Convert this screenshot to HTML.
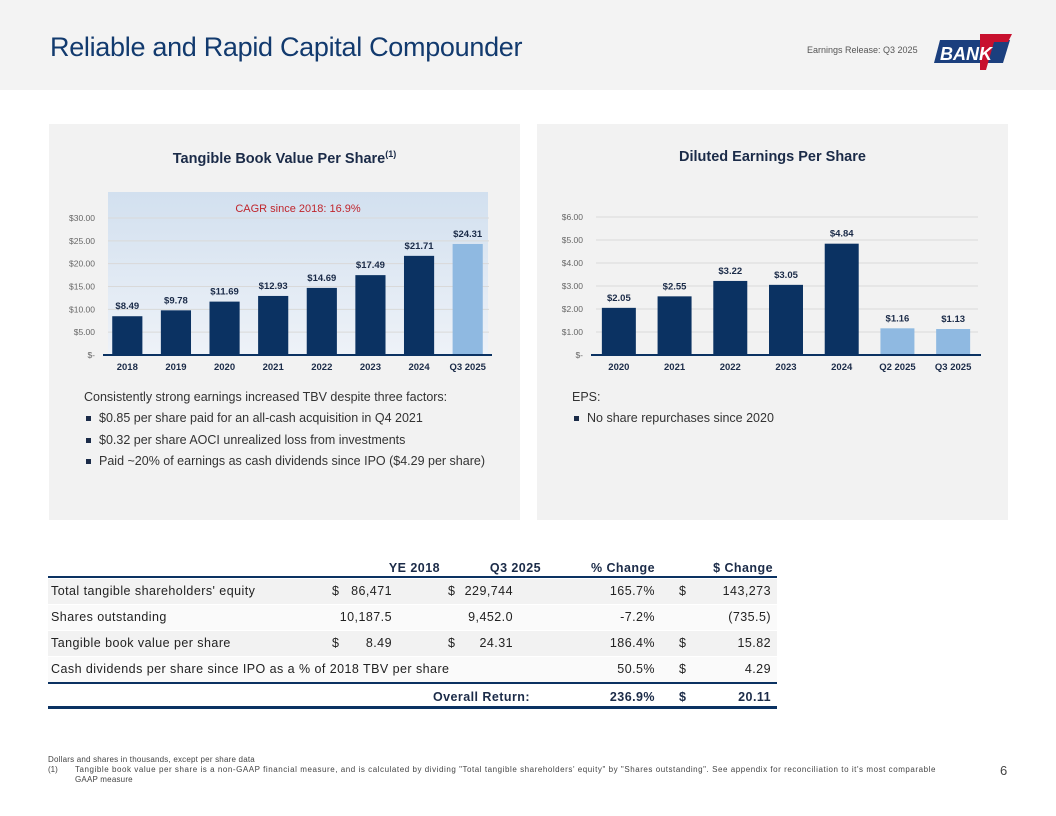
<!DOCTYPE html>
<html><head><meta charset="utf-8">
<style>
body{margin:0;width:1056px;height:816px;position:relative;background:#fff;font-family:"Liberation Sans",sans-serif;overflow:hidden;color:#222}
.abs{position:absolute}
.hdr{left:0;top:0;width:1056px;height:90px;background:#f3f3f3}
.title{left:50px;top:32px;font-size:27px;color:#123a6e;letter-spacing:-0.3px}
.panel{background:#f2f2f2;top:124px;height:396px}
.ptitle{font-weight:bold;font-size:14.5px;color:#1b2b48;text-align:center;width:100%;top:25px}
.txt{font-size:12.5px;color:#333}
.bul{font-size:12.5px;color:#333;padding-left:50px}
.bul:before{content:"";position:absolute;left:37px;top:5px;width:5px;height:5px;background:#1b2b48}
.row{position:absolute;left:48px;width:729px;height:24px;font-size:12.5px;color:#222;letter-spacing:0.45px}
.row span{position:absolute;top:5px}
</style></head><body>
<div class="abs hdr"></div>
<div class="abs title">Reliable and Rapid Capital Compounder</div>
<div class="abs" style="left:807px;top:45px;font-size:9px;color:#555">Earnings Release: Q3 2025</div>
<svg class="abs" style="left:930px;top:30px" width="85" height="42">
<polygon points="10,10 80,10 73,33 4,33" fill="#1b3f7e"/>
<polygon points="50,4 82,4 78,12 64,12 56,40 50,40" fill="#c8102e"/>
<text x="10" y="30" font-size="18" font-weight="bold" font-style="italic" fill="#fff" font-family="Liberation Sans">BANK</text>
</svg>

<div class="abs panel" style="left:49px;width:471px">
<div class="abs ptitle">Tangible Book Value Per Share<sup style="font-size:9px">(1)</sup></div>
</div>
<div class="abs panel" style="left:537px;width:471px">
<div class="abs ptitle">Diluted Earnings Per Share</div>
</div>

<svg id="chart" class="abs" style="left:0;top:0" width="1056" height="400">
<defs><linearGradient id="bg" x1="0" y1="0" x2="0" y2="1"><stop offset="0" stop-color="#d2e0ef"/><stop offset="1" stop-color="#eef2f8"/></linearGradient></defs>
<rect x="108" y="192" width="380" height="163" fill="url(#bg)"/>
<text x="298" y="212" font-size="11" fill="#c0262d" text-anchor="middle">CAGR since 2018: 16.9%</text>
</svg>

<div class="abs txt" style="left:84px;top:390px">Consistently strong earnings increased TBV despite three factors:</div>
<div class="abs bul" style="left:49px;top:411px">$0.85 per share paid for an all-cash acquisition in Q4 2021</div>
<div class="abs bul" style="left:49px;top:433px">$0.32 per share AOCI unrealized loss from investments</div>
<div class="abs bul" style="left:49px;top:454px">Paid ~20% of earnings as cash dividends since IPO ($4.29 per share)</div>
<div class="abs txt" style="left:572px;top:390px">EPS:</div>
<div class="abs bul" style="left:537px;top:411px">No share repurchases since 2020</div>

<div id="tbl"></div>

<div class="abs" style="left:48px;top:755px;font-size:8px;color:#444;line-height:10px;width:960px;letter-spacing:0.55px">
<span style="letter-spacing:0.2px">Dollars and shares in thousands, except per share data</span><br>
<span style="display:inline-block;width:27px;letter-spacing:0">(1)</span>Tangible book value per share is a non-GAAP financial measure, and is calculated by dividing "Total tangible shareholders' equity" by "Shares outstanding". See appendix for reconciliation to it's most comparable<br><span style="display:inline-block;width:27px"></span><span style="letter-spacing:0.2px">GAAP measure</span></div>
<div class="abs" style="left:1000px;top:763px;font-size:13px;color:#444">6</div>

<script>
const tbvCats=["2018","2019","2020","2021","2022","2023","2024","Q3 2025"];
const tbvVals=[8.49,9.78,11.69,12.93,14.69,17.49,21.71,24.31];
const tbvLabels=["$8.49","$9.78","$11.69","$12.93","$14.69","$17.49","$21.71","$24.31"];
const tbvTicks=[0,5,10,15,20,25,30];
const tbvTickLabels=["$-","$5.00","$10.00","$15.00","$20.00","$25.00","$30.00"];
const epsCats=["2020","2021","2022","2023","2024","Q2 2025","Q3 2025"];
const epsVals=[2.05,2.55,3.22,3.05,4.84,1.16,1.13];
const epsLabels=["$2.05","$2.55","$3.22","$3.05","$4.84","$1.16","$1.13"];
const epsTicks=[0,1,2,3,4,5,6];
const epsTickLabels=["$-","$1.00","$2.00","$3.00","$4.00","$5.00","$6.00"];
const svg=document.getElementById('chart');
const NS="http://www.w3.org/2000/svg";
function mk(t,a){const e=document.createElementNS(NS,t);for(const k in a)e.setAttribute(k,a[k]);svg.appendChild(e);return e;}
function draw(cfg){
  const y=v=>cfg.y0-(v-cfg.min)/(cfg.max-cfg.min)*(cfg.y0-cfg.y1);
  const bw=(cfg.x1-cfg.x0)/cfg.cats.length;
  cfg.ticks.forEach((t,i)=>{
    if(t>cfg.min){const l=mk('line',{x1:cfg.x0+5,x2:cfg.x1-3,y1:y(t),y2:y(t),stroke:'#d9d9d9','stroke-width':1});
    }
    const tx=mk('text',{x:cfg.x0-8,y:y(t)+3,'font-size':8.5,fill:'#666','text-anchor':'end'});
    tx.textContent=cfg.tickLabels[i];
    
  });
  cfg.cats.forEach((c,i)=>{
    const cx=cfg.x0+bw*(i+0.5),w=bw*cfg.r;
    const r=mk('rect',{x:cx-w/2,y:y(cfg.vals[i]),width:w,height:y(cfg.min)-y(cfg.vals[i]),fill:cfg.light.includes(i)?'#8fb9e1':'#0b3262'});
    
    const vl=mk('text',{x:cx,y:y(cfg.vals[i])-7,'font-size':9.5,'font-weight':'bold',fill:'#1b2b48','text-anchor':'middle'});
    vl.textContent=cfg.labels[i];
    
    const cl=mk('text',{x:cx,y:cfg.y0+15,'font-size':9.5,'font-weight':'bold',fill:'#1b2b48','text-anchor':'middle'});
    cl.textContent=c;
    
  });
  const ax=mk('line',{x1:cfg.x0,x2:cfg.x1,y1:cfg.y0,y2:cfg.y0,stroke:'#0b3262','stroke-width':2});
  
}
draw({id:'tbv',cats:tbvCats,vals:tbvVals,labels:tbvLabels,ticks:tbvTicks,tickLabels:tbvTickLabels,min:0,max:30,x0:103,x1:492,y0:355,y1:218,r:0.62,light:[7]});
draw({id:'eps',cats:epsCats,vals:epsVals,labels:epsLabels,ticks:epsTicks,tickLabels:epsTickLabels,min:0,max:6,x0:591,x1:981,y0:355,y1:217,r:0.61,light:[5,6]});

const hdr=["YE 2018","Q3 2025","% Change","$ Change"];
const rows=[
 ["Total tangible shareholders' equity","$","86,471","$","229,744","165.7%","$","143,273"],
 ["Shares outstanding","","10,187.5","","9,452.0","-7.2%","","(735.5)"],
 ["Tangible book value per share","$","8.49","$","24.31","186.4%","$","15.82"],
 ["Cash dividends per share since IPO as a % of 2018 TBV per share","","","","","50.5%","$","4.29"]
];
const tbl=document.getElementById('tbl');
let h='<div class="row" style="top:556px;font-weight:bold;color:#1b2b48">'+
 '<span style="right:337px">'+hdr[0]+'</span><span style="right:236px">'+hdr[1]+'</span><span style="right:122px">'+hdr[2]+'</span><span style="right:4px">'+hdr[3]+'</span></div>';
h+='<div class="abs" style="left:48px;top:576px;width:729px;height:2px;background:#0b3262"></div>';
rows.forEach((r,i)=>{
 const t=579+i*26;
 h+='<div class="row" style="top:'+t+'px;height:25px;background:'+(i%2==0?'#f2f2f2':'#fafafa')+'">'+
 '<span style="left:3px">'+r[0]+'</span><span style="left:284px">'+r[1]+'</span><span style="right:385px">'+r[2]+'</span>'+
 '<span style="left:400px">'+r[3]+'</span><span style="right:264px">'+r[4]+'</span><span style="right:122px">'+r[5]+'</span>'+
 '<span style="left:631px">'+r[6]+'</span><span style="right:6px">'+r[7]+'</span></div>';
});
h+='<div class="abs" style="left:48px;top:682px;width:729px;height:1.5px;background:#0b3262"></div>';
h+='<div class="row" style="top:685px;font-weight:bold;color:#1b2b48"><span style="right:247px">Overall Return:</span><span style="right:122px">236.9%</span><span style="left:631px">$</span><span style="right:6px">20.11</span></div>';
h+='<div class="abs" style="left:48px;top:706px;width:729px;height:3px;background:#0b3262"></div>';
tbl.innerHTML=h;
</script>
</body></html>
